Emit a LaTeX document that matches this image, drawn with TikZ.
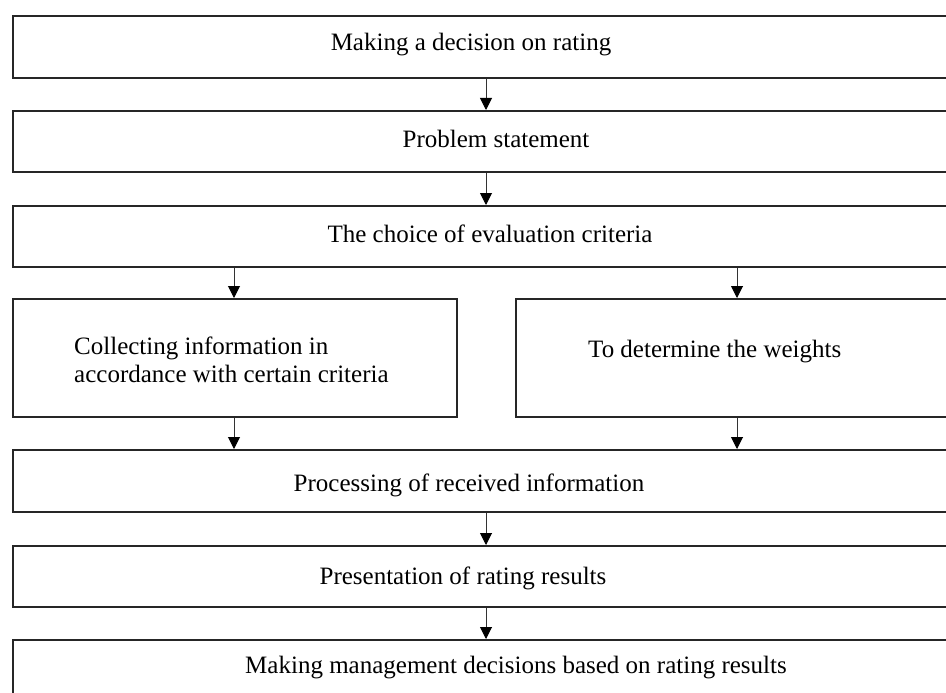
\documentclass[tikz,border=0pt]{standalone}
\usepackage{fontspec}
\setmainfont{Liberation Serif}
\usetikzlibrary{arrows.meta}
\begin{document}
\begin{tikzpicture}[x=1pt,y=-1pt,
  box/.style={draw=black!85, line width=1.8pt, rectangle, inner sep=0pt, anchor=north west},
  lbl/.style={font=\fontsize{25}{28}\selectfont, inner sep=0pt, text=black},
  flow/.style={draw=black!80, line width=1pt, -{Triangle[length=12pt,width=12pt,color=black]}}]
\useasboundingbox (0,0) rectangle (946,693);
\clip (0,0) rectangle (946,693);
% full-width stages
\node[box, minimum width=950pt, minimum height=62pt] (b1) at (12,15) {};
\node[box, minimum width=950pt, minimum height=61pt] (b2) at (12,110) {};
\node[box, minimum width=950pt, minimum height=61pt] (b3) at (12,205) {};
% parallel stages
\node[box, minimum width=444pt, minimum height=118pt] (b4) at (12,298) {};
\node[box, minimum width=450pt, minimum height=118pt] (b5) at (515,298) {};
\node[box, minimum width=950pt, minimum height=62pt] (b6) at (12,449) {};
\node[box, minimum width=950pt, minimum height=61pt] (b7) at (12,545) {};
\node[box, minimum width=950pt, minimum height=80pt] (b8) at (12,639) {};
% labels
\node[lbl] (t1) at (471,45) {Making a decision on rating};
\node[lbl] (t2) at (496,139) {Problem statement};
\node[lbl] (t3) at (490,234) {The choice of evaluation criteria};
\node[lbl, anchor=west, align=left] (t4) at (74,360) {Collecting information in\\accordance with certain criteria};
\node[lbl, anchor=west] (t5) at (588,352) {To determine the weights};
\node[lbl] (t6) at (469,485) {Processing of received information};
\node[lbl] (t7) at (463,578) {Presentation of rating results};
\node[lbl] (t8) at (516,668) {Making management decisions based on rating results};
% connectors
\coordinate (c1) at (486,0);
\draw[flow] (b1.south -| c1) -- (b2.north -| c1);
\draw[flow] (b2.south -| c1) -- (b3.north -| c1);
\coordinate (cl) at (234,0);
\coordinate (cr) at (737,0);
\draw[flow] (b3.south -| cl) -- (b4.north -| cl);
\draw[flow] (b3.south -| cr) -- (b5.north -| cr);
\draw[flow] (b4.south -| cl) -- (b6.north -| cl);
\draw[flow] (b5.south -| cr) -- (b6.north -| cr);
\draw[flow] (b6.south -| c1) -- (b7.north -| c1);
\draw[flow] (b7.south -| c1) -- (b8.north -| c1);
\end{tikzpicture}
\end{document}
